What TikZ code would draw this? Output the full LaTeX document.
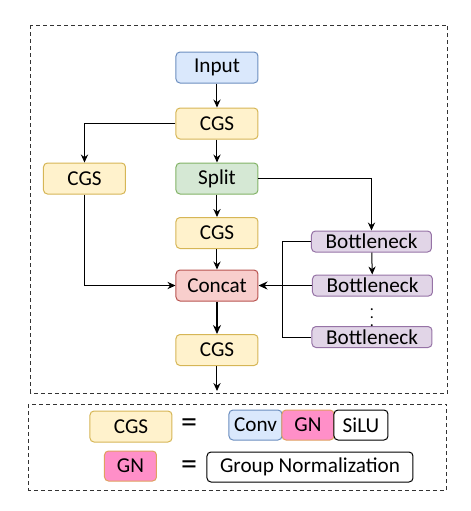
\documentclass[tikz,border=0pt]{standalone}
\usepackage{fontspec}
\setmainfont{Carlito}
\definecolor{inBlue}{HTML}{DAE8FC}
\definecolor{inBlueLine}{HTML}{6C8EBF}
\definecolor{cgsYellow}{HTML}{FFF2CC}
\definecolor{cgsYellowLine}{HTML}{D6B656}
\definecolor{splitGreen}{HTML}{D5E8D4}
\definecolor{splitGreenLine}{HTML}{82B366}
\definecolor{catRed}{HTML}{F8CECC}
\definecolor{catRedLine}{HTML}{B85450}
\definecolor{bnPurple}{HTML}{E1D5E7}
\definecolor{bnPurpleLine}{HTML}{9673A6}
\definecolor{gnPink}{HTML}{FF8FC8}
\definecolor{gnPinkLine}{HTML}{E0A060}
\usetikzlibrary{
	arrows.meta,
	positioning,
	calc
}
\tikzset{
	caja/.style={
		rounded corners=2pt,
		line width=0.5pt,
		align=center,
		inner sep=0pt,
		minimum width=41pt,
		minimum height=15.5pt,
		font=\fontsize{10.6}{12}\selectfont
	},
	entrada/.style={caja, draw=inBlueLine, fill=inBlue},
	cgs/.style={caja, draw=cgsYellowLine, fill=cgsYellow},
	division/.style={caja, draw=splitGreenLine, fill=splitGreen},
	concat/.style={caja, draw=catRedLine, fill=catRed},
	cuello/.style={caja, draw=bnPurpleLine, fill=bnPurple, minimum width=60pt, minimum height=10.5pt},
	gn/.style={caja, draw=gnPinkLine, fill=gnPink, minimum width=26pt, minimum height=15pt},
	marco/.style={draw=black!80, line width=0.5pt, dash pattern=on 2pt off 1.5pt},
	igual/.style={font=\fontsize{16}{16}\selectfont, inner sep=0pt},
	flecha/.style={
		-{Stealth[length=4pt,width=3.6pt]},
		line width=0.5pt
	},
	flechaGruesa/.style={
		-{Stealth[length=4.5pt,width=4pt]},
		line width=0.9pt
	},
	linea/.style={line width=0.5pt}
}

\begin{document}
\begin{tikzpicture}[x=0.5pt,y=-0.5pt]
	\useasboundingbox (0,0) rectangle (471,511);
	% marcos
	\draw[marco] (31,25) rectangle (448,393);
	\draw[marco] (29,404) rectangle (447,490);
	% bloque principal
	\node[entrada] (input) at (217,67.5) {Input};
	\node[cgs] (cgsA) at (217,123.5) {CGS};
	\node[cgs] (cgsB) at (84.5,178.5) {CGS};
	\node[division] (split) at (217,178.5) {Split};
	\node[cgs] (cgsC) at (217,233) {CGS};
	\node[concat] (cat) at (217,285.5) {Concat};
	\node[cgs] (cgsD) at (217,350) {CGS};
	\coordinate (salida) at (217,391);
	\node[cuello] (bnA) at (371.5,241.5) {Bottleneck};
	\node[cuello] (bnB) at (372.5,285.5) {Bottleneck};
	\node[cuello] (bnC) at (372,337) {Bottleneck};
	\node[inner sep=0pt, font=\fontsize{8}{8}\selectfont] (puntos) at (372,311.5) {$\vdots$};
	% conexiones
	\draw[flecha] (input) -- (cgsA);
	\draw[flecha] (cgsA) -- (split);
	\draw[flecha] (cgsA.west) -| (cgsB.north);
	\draw[flecha] (split) -- (cgsC);
	\draw[flecha] (split.east) -| (bnA.north);
	\draw[flecha] (cgsC) -- (cat);
	\draw[flecha] (cgsB.south) |- (cat.west);
	\draw[flecha] (bnA) -- (bnB);
	\draw[linea] (bnA.west) -- ++(-28,0) |- (bnC.west);
	\draw[flechaGruesa] (bnB.west) -- (cat.east);
	\draw[flechaGruesa] (cat) -- (cgsD);
	\draw[flecha] (cgsD) -- (salida);
	% leyenda
	\node[cgs] (leyCgs) at (131,426.5) {CGS};
	\node[igual] (igualA) at (189,426) {=};
	\node[caja, draw=inBlueLine, fill=inBlue, minimum width=26.5pt, minimum height=15pt] (conv) at (255.5,425) {Conv};
	\node[gn] (gnA) at (308,425) {GN};
	\node[caja, draw=black, fill=white, minimum width=27pt, minimum height=15pt] (silu) at (361,425) {SiLU};
	\node[gn] (leyGn) at (130.5,466) {GN};
	\node[igual] (igualB) at (189,468) {=};
	\node[caja, draw=black, fill=white, minimum width=103pt, minimum height=15pt] (grupo) at (310,467) {Group Normalization};
\end{tikzpicture}
\end{document}
